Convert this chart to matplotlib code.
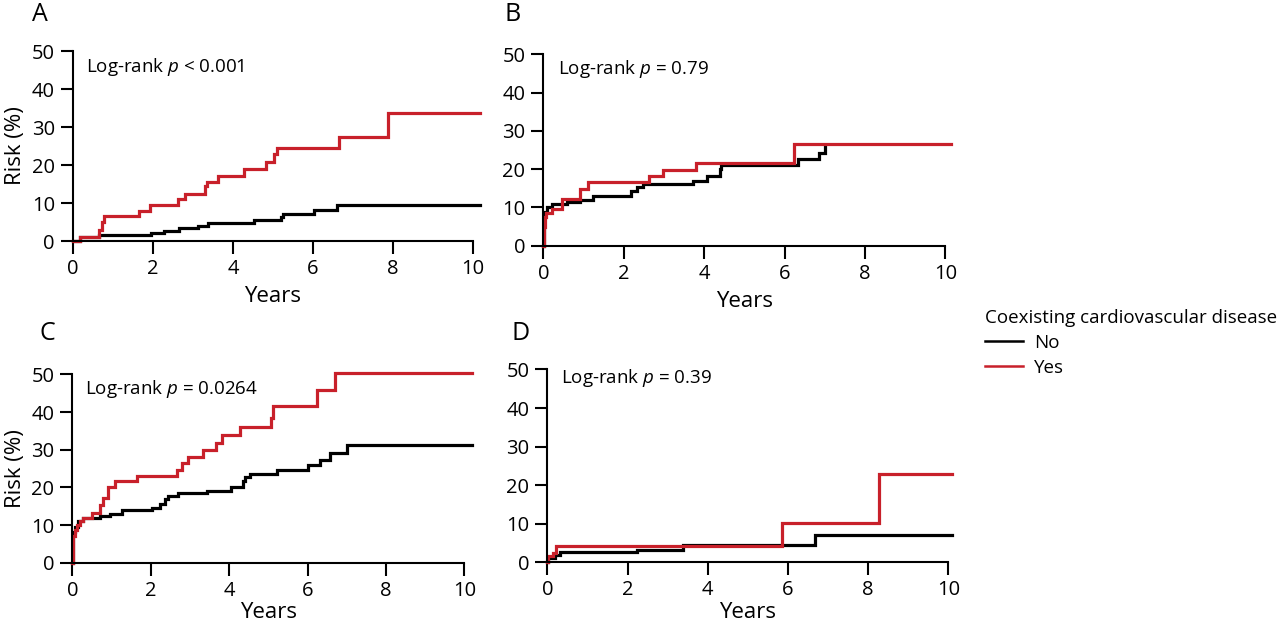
import matplotlib
matplotlib.use("Agg")
import matplotlib.pyplot as plt

plt.rcParams['font.family'] = ['Open Sans', 'DejaVu Sans']
plt.rcParams['mathtext.fontset'] = 'custom'
plt.rcParams['mathtext.rm'] = 'Open Sans'
plt.rcParams['mathtext.it'] = 'Open Sans:italic'

RED = '#c8202a'

# cumulative risk (%) step curves, years vs risk
a_no_t = [0, 0.17, 0.66, 1.95, 2.28, 2.66, 3.13, 3.38, 4.52, 5.2, 5.26, 6.02, 6.6, 10.18]
a_no_r = [0, 1.0, 1.5, 2.0, 2.6, 3.3, 3.9, 4.7, 5.4, 6.2, 7.2, 8.2, 9.6, 9.6]
a_yes_t = [0, 0.17, 0.66, 0.72, 0.78, 1.65, 1.93, 2.62, 2.79, 3.3, 3.36, 3.62, 4.27,
           4.82, 5.03, 5.1, 6.66, 7.88, 10.18]
a_yes_r = [0, 1.1, 3.0, 5.0, 6.6, 7.9, 9.6, 11.0, 12.5, 14.5, 15.6, 17.1, 19.0,
           20.9, 22.8, 24.6, 27.5, 33.6, 33.6]

b_no_t = [0, 0.02, 0.08, 0.21, 0.58, 0.91, 1.24, 2.19, 2.32, 2.48, 3.73, 4.06, 4.39,
          4.43, 6.33, 6.87, 7.0]
b_no_r = [0, 8.8, 10.0, 11.0, 11.4, 12.0, 13.1, 14.4, 15.3, 16.1, 17.0, 18.3, 20.0,
          21.0, 22.6, 24.3, 26.0]
b_yes_t = [0, 0.01, 0.03, 0.06, 0.21, 0.47, 0.91, 1.12, 2.62, 2.98, 3.79, 6.23, 10.14]
b_yes_r = [0, 5.0, 7.5, 8.6, 9.5, 12.2, 14.8, 16.6, 18.1, 19.8, 21.7, 26.5, 26.5]

c_no_t = [0, 0.01, 0.07, 0.15, 0.28, 0.71, 0.96, 1.26, 2.02, 2.24, 2.36, 2.45, 2.7,
          3.43, 4.06, 4.35, 4.4, 4.53, 5.21, 6.02, 6.32, 6.57, 7.0, 10.2]
c_no_r = [0, 8.2, 9.6, 11.0, 11.8, 12.5, 13.0, 14.0, 14.5, 15.5, 16.8, 17.7, 18.4,
          19.1, 20.2, 21.8, 22.8, 23.5, 24.6, 25.9, 27.3, 29.0, 31.2, 31.2]
c_yes_t = [0, 0.01, 0.03, 0.07, 0.11, 0.2, 0.28, 0.49, 0.71, 0.79, 0.92, 1.09, 1.64,
           2.66, 2.79, 2.96, 3.34, 3.67, 3.81, 4.28, 5.06, 5.11, 6.23, 6.7, 10.2]
c_yes_r = [0, 4.0, 7.0, 8.7, 10.0, 11.0, 11.8, 13.1, 15.3, 17.1, 20.2, 21.8, 23.1,
           24.6, 26.4, 28.1, 29.9, 31.7, 33.9, 36.1, 38.3, 41.7, 45.8, 50.3, 50.3]

d_no_t = [0, 0.02, 0.19, 0.32, 2.23, 3.39, 6.67, 10.1]
d_no_r = [0, 1.0, 1.8, 2.6, 3.3, 4.6, 7.2, 7.2]
d_yes_t = [0, 0.02, 0.15, 0.22, 5.86, 8.28, 10.1]
d_yes_r = [0, 1.5, 2.5, 4.2, 10.2, 22.8, 22.8]

panels = ['A', 'B', 'C', 'D']
pvals = ['Log-rank $\\it{p}$ < 0.001', 'Log-rank $\\it{p}$ = 0.79',
         'Log-rank $\\it{p}$ = 0.0264', 'Log-rank $\\it{p}$ = 0.39']
curves = [(a_no_t, a_no_r, a_yes_t, a_yes_r), (b_no_t, b_no_r, b_yes_t, b_yes_r),
          (c_no_t, c_no_r, c_yes_t, c_yes_r), (d_no_t, d_no_r, d_yes_t, d_yes_r)]

# layout: axes rectangles, annotation spots, panel letter spots (figure fraction)
rects = [[0.0570, 0.6150, 0.3125, 0.3035],
         [0.4245, 0.6075, 0.3140, 0.3055],
         [0.0565, 0.1010, 0.3063, 0.3010],
         [0.4276, 0.1018, 0.3133, 0.3080]]
txt_pos = [(0.33, 45.9), (0.37, 46.1), (0.32, 46.1), (0.34, 47.8)]
letter_pos = [(0.0250, 0.9776), (0.3945, 0.9776), (0.0305, 0.4665), (0.4000, 0.4665)]
xlab_pad = [5, 5, 1, 1]

fig = plt.figure(figsize=(12.8, 6.26), dpi=100)

for i in range(4):
    ax = fig.add_axes(rects[i])
    no_t, no_r, yes_t, yes_r = curves[i]
    l_no, = ax.step(no_t, no_r, where='post', color='black', lw=2.3, clip_on=False,
                    solid_joinstyle='miter', label='No')
    l_yes, = ax.step(yes_t, yes_r, where='post', color=RED, lw=2.3, clip_on=False,
                     solid_joinstyle='miter', label='Yes')
    ax.set_xlim(0, 10)
    ax.set_ylim(0, 50)
    ax.set_xticks([0, 2, 4, 6, 8, 10])
    ax.set_yticks([0, 10, 20, 30, 40, 50])
    for s in ['top', 'right']:
        ax.spines[s].set_visible(False)
    for s in ['left', 'bottom']:
        ax.spines[s].set_linewidth(1.5)
    ax.tick_params(direction='out', length=9, width=1.5, labelsize=14.5, pad=4)
    ax.set_xlabel('Years', fontsize=16, labelpad=xlab_pad[i])
    if i % 2 == 0:
        ax.set_ylabel('Risk (%)', fontsize=16, labelpad=4)
    ax.text(txt_pos[i][0], txt_pos[i][1], pvals[i], fontsize=13.5, va='center', ha='left')
    fig.text(letter_pos[i][0], letter_pos[i][1], panels[i], fontsize=18,
             ha='left', va='center')
    ax.patch.set_alpha(0)

leg = fig.legend(handles=[l_no, l_yes], title='Coexisting cardiovascular disease',
                 loc='upper left', bbox_to_anchor=(0.764, 0.518), frameon=False,
                 fontsize=13.5, title_fontsize=13.5, handlelength=2.0,
                 handletextpad=0.6, labelspacing=0.36, alignment='left',
                 borderaxespad=0)
for h in leg.get_lines():
    h.set_linewidth(1.8)

fig.savefig('out.png', dpi=100)
